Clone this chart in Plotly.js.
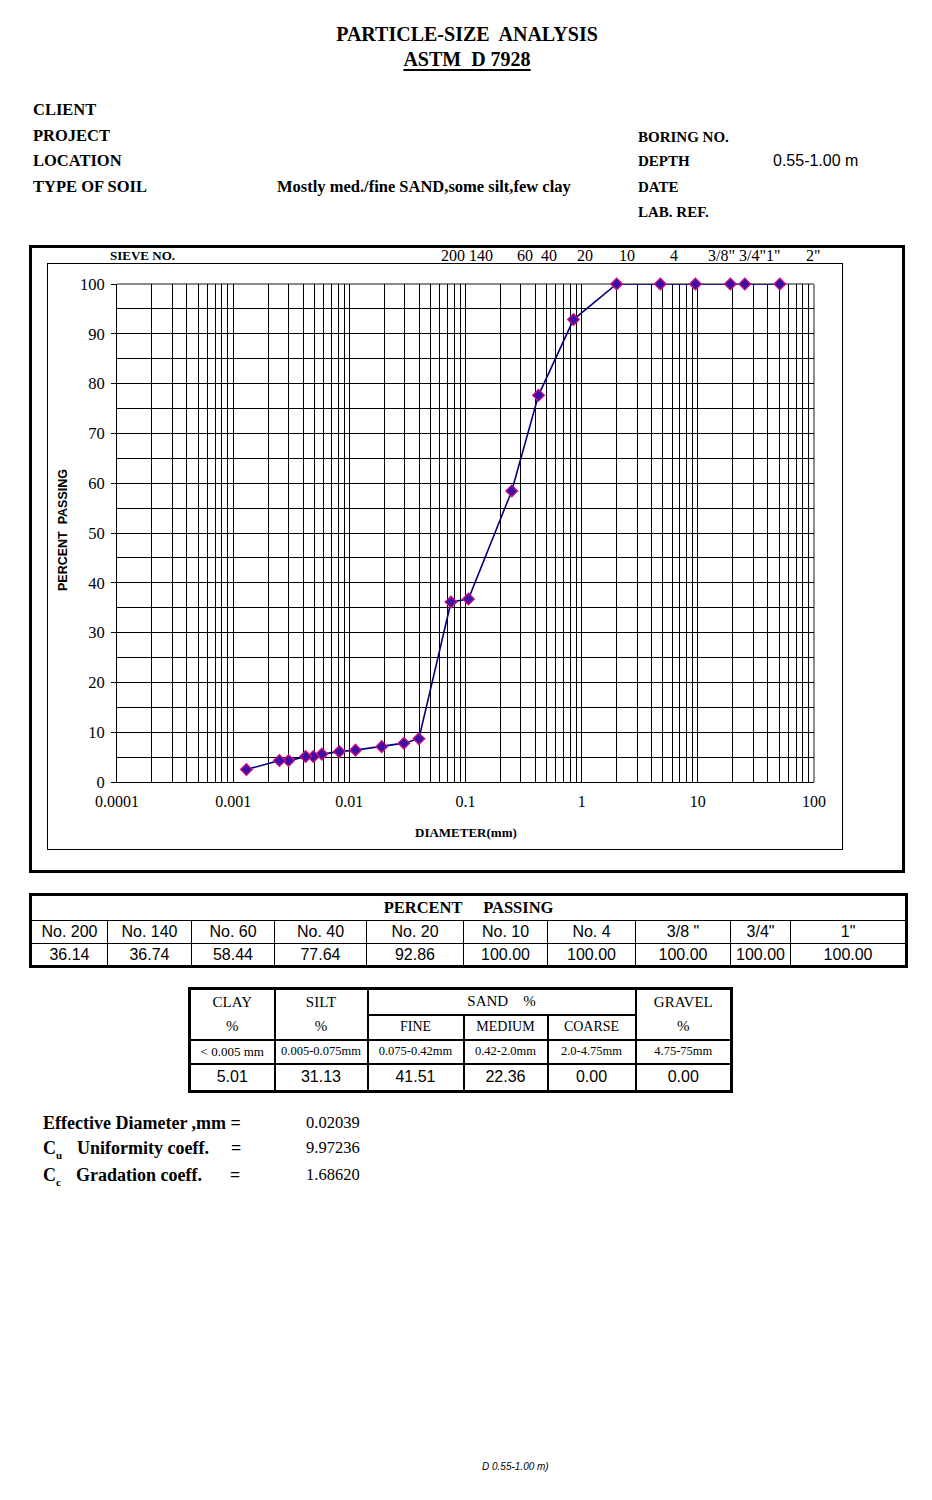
<!DOCTYPE html>
<html><head><meta charset="utf-8">
<script src="https://cdn.plot.ly/plotly-3.0.1.min.js"></script>
<style>
body{margin:0;background:#fff;}
#page{position:relative;width:932px;height:1500px;overflow:hidden;font-family:"Liberation Serif","Times New Roman",serif;color:#000;background:#fff;}
.tx{position:absolute;white-space:pre;line-height:20px;height:20px;}
table{position:absolute;border-collapse:collapse;table-layout:fixed;}
td{padding:0;text-align:center;white-space:nowrap;overflow:hidden;}
#t1{left:29px;top:893px;width:876px;border:3px solid #000;}
#t1 td{border:1px solid #000;font-family:"Liberation Sans",Arial,sans-serif;font-size:16px;}
#t1 td.h{font-family:"Liberation Serif",serif;font-weight:bold;font-size:16.5px;}
#t2{left:188px;top:987px;width:542px;border:3px solid #000;}
#t2 td{border:2px solid #000;font-size:15px;}
#t2 td.nb{border-bottom:none;}
#t2 td.nt{border-top:none;}
#t2 td.r{font-size:13px;border-top:1px solid #000;}
#t2 td.v{font-family:"Liberation Sans",Arial,sans-serif;font-size:16px;}
</style></head>
<body><div id="page">
<div style="position:absolute;left:29px;top:245px;width:870px;height:622px;border:3px solid #000;"></div>
<div style="position:absolute;left:47px;top:263px;width:796px;height:587px;border:1px solid #000;box-sizing:border-box;"></div>
<div id="chart" style="position:absolute;left:0;top:0;width:932px;height:900px;"></div>
</div>
<script>
// ---- data ----
const diameterMm = [50.8, 25.4, 19.05, 9.525, 4.75, 2.0, 0.85, 0.425, 0.25, 0.106, 0.075,
  0.0397, 0.0295, 0.0190, 0.0113, 0.0082, 0.0058, 0.0049, 0.0042, 0.0030, 0.0025, 0.0013];
const percentPassing = [100, 100, 100, 100, 100, 100, 92.86, 77.64, 58.44, 36.74, 36.14,
  8.7, 7.8, 7.1, 6.4, 6.1, 5.6, 5.1, 5.1, 4.3, 4.3, 2.5];
const xDecades = [0.0001, 0.001, 0.01, 0.1, 1, 10, 100];
const xDecadeLabels = ['0.0001', '0.001', '0.01', '0.1', '1', '10', '100'];
const yTicks = [0, 10, 20, 30, 40, 50, 60, 70, 80, 90, 100];
const sieveTopLabels = ['200 140', '60  40', '20', '10', '4', '3/8" 3/4"1"', '2"'];
const tableSieves = ['No. 200', 'No. 140', 'No. 60', 'No. 40', 'No. 20', 'No. 10', 'No. 4', '3/8 "', '3/4"', '1"'];
const tablePassing = [36.14, 36.74, 58.44, 77.64, 92.86, 100.00, 100.00, 100.00, 100.00, 100.00];
const fractionNames = ['CLAY', 'SILT', 'FINE', 'MEDIUM', 'COARSE', 'GRAVEL'];
const fractionRanges = ['< 0.005 mm', '0.005-0.075mm', '0.075-0.42mm', '0.42-2.0mm', '2.0-4.75mm', '4.75-75mm'];
const fractionPercent = [5.01, 31.13, 41.51, 22.36, 0.00, 0.00];
const effectiveDiameter = '0.02039';
const uniformityCoeff = '9.97236';
const gradationCoeff = '1.68620';
const depthText = '0.55-1.00 m';
const soilType = 'Mostly med./fine SAND,some silt,few clay';

// ---- text helper ----
const page = document.getElementById('page');
function put(html, x, yc, css, center) {
  const d = document.createElement('div');
  d.className = 'tx';
  d.style.left = x + 'px';
  d.style.top = (yc - 10) + 'px';
  d.innerHTML = html;
  if (center) d.style.transform = 'translateX(-50%)';
  Object.assign(d.style, css || {});
  page.appendChild(d);
  return d;
}
put('PARTICLE-SIZE  ANALYSIS', 467, 34, {fontWeight:'bold', fontSize:'20px'}, true);
put('ASTM  D 7928', 467, 59, {fontWeight:'bold', fontSize:'20px', textDecoration:'underline', textDecorationThickness:'2px', textUnderlineOffset:'3px'}, true);
const hdr = {fontWeight:'bold', fontSize:'16.5px'};
put('CLIENT', 33, 110, hdr);
put('PROJECT', 33, 136, hdr);
put('LOCATION', 33, 161, hdr);
put('TYPE OF SOIL', 33, 187, hdr);
put(soilType, 277, 187, hdr);
const hdr2 = {fontWeight:'bold', fontSize:'15px'};
put('BORING NO.', 638, 137, hdr2);
put('DEPTH', 638, 161, hdr2);
put('DATE', 638, 187, hdr2);
put('LAB. REF.', 638, 212, hdr2);
put(depthText, 773, 161, {fontFamily:'"Liberation Sans",Arial,sans-serif', fontSize:'16px'});

// sieve numbers above chart
put('SIEVE NO.', 110, 256, {fontWeight:'bold', fontSize:'13px'});
const sieveLeft = [441, 517, 577, 619, 670, 708, 806];
sieveTopLabels.forEach((s, i) => put(s.replace(/"/g, '&quot;'), sieveLeft[i], 256, {fontSize:'16px'}));

// ---- chart ----
const gridVals = [], gridText = [];
for (let e = -4; e <= 2; e++) {
  for (let m = 1; m <= 9; m++) {
    const v = m * Math.pow(10, e);
    if (e === 2 && m > 1) break;
    gridVals.push(v);
    gridText.push(m === 1 ? xDecadeLabels[e + 4] : '');
  }
}
const trace = {
  x: diameterMm, y: percentPassing, type: 'scatter', mode: 'lines+markers',
  line: {color: '#000080', width: 1.6},
  marker: {symbol: 'diamond', size: 9, color: '#3a10a8', line: {color: '#d0107a', width: 1.3}},
  cliponaxis: false, showlegend: false, hoverinfo: 'skip'
};
const fnt = {family: '"Liberation Serif", "Times New Roman", serif', size: 16, color: '#000'};
const layout = {
  width: 932, height: 900,
  margin: {l: 117, r: 118, t: 284, b: 118, pad: 0},
  paper_bgcolor: 'rgba(0,0,0,0)', plot_bgcolor: 'rgba(0,0,0,0)',
  font: fnt,
  xaxis: {
    type: 'log', range: [-4, 2], tickmode: 'array', tickvals: gridVals, ticktext: gridText,
    showgrid: true, gridcolor: '#000', gridwidth: 1, zeroline: false,
    showline: true, linecolor: '#000', linewidth: 1, ticks: '', ticklabelstandoff: 5,
    tickfont: fnt
  },
  yaxis: {
    range: [0, 100], tickmode: 'array', tickvals: yTicks,
    showgrid: true, gridcolor: '#000', gridwidth: 1, zeroline: false,
    minor: {dtick: 5, showgrid: true, gridcolor: '#000', gridwidth: 1, ticks: ''},
    showline: true, linecolor: '#000', linewidth: 1, ticks: 'outside', ticklen: 5, tickcolor: '#000',
    ticklabelstandoff: 3,
    tickfont: {family: fnt.family, size: 16.5, color: '#000'}
  },
  shapes: [
    {type: 'line', xref: 'paper', yref: 'paper', x0: 0, x1: 1, y0: 1, y1: 1, line: {color: '#8c8c8c', width: 2}, layer: 'between'},
    {type: 'line', xref: 'paper', yref: 'paper', x0: 1, x1: 1, y0: 0, y1: 1, line: {color: '#8c8c8c', width: 2}, layer: 'between'}
  ],
  annotations: [
    {text: 'PERCENT  PASSING', xref: 'paper', yref: 'paper', x: (63 - 117) / 697, y: (782 - 530) / 498,
     textangle: -90, showarrow: false, xanchor: 'center', yanchor: 'middle',
     font: {family: '"Liberation Sans", Arial, sans-serif', size: 12.5, color: '#000', weight: 'bold'}},
    {text: '<b>DIAMETER(mm)</b>', xref: 'paper', yref: 'paper', x: (466 - 117) / 697, y: (782 - 832) / 498,
     showarrow: false, xanchor: 'center', yanchor: 'middle',
     font: {family: '"Liberation Serif", serif', size: 13, color: '#000'}}
  ]
};
Plotly.newPlot('chart', [trace], layout, {staticPlot: true, displayModeBar: false});

// ---- table 1 ----
const t1w = [77, 84, 83, 92, 97, 84, 88, 95, 60, 116];
let h1 = '<table id="t1"><colgroup>' + t1w.map(w => '<col style="width:' + w + 'px">').join('') + '</colgroup>';
h1 += '<tr style="height:26px"><td class="h" colspan="10">PERCENT&nbsp;&nbsp;&nbsp;&nbsp;&nbsp;PASSING</td></tr>';
h1 += '<tr style="height:23px">' + tableSieves.map(s => '<td>' + s.replace(/"/g, '&quot;') + '</td>').join('') + '</tr>';
h1 += '<tr style="height:23px">' + tablePassing.map(v => '<td>' + v.toFixed(2) + '</td>').join('') + '</tr></table>';
page.insertAdjacentHTML('beforeend', h1);

// ---- table 2 ----
const t2w = [85, 93, 96, 84, 88, 96];
let h2 = '<table id="t2"><colgroup>' + t2w.map(w => '<col style="width:' + w + 'px">').join('') + '</colgroup>';
h2 += '<tr style="height:26px"><td class="nb">' + fractionNames[0] + '</td><td class="nb">' + fractionNames[1] +
      '</td><td colspan="3">SAND&nbsp;&nbsp;&nbsp;&nbsp;%</td><td class="nb">' + fractionNames[5] + '</td></tr>';
h2 += '<tr style="height:25px"><td class="nt">%</td><td class="nt">%</td><td style="font-size:14px">' + fractionNames[2] +
      '</td><td style="font-size:14px">' + fractionNames[3] + '</td><td style="font-size:14px">' + fractionNames[4] + '</td><td class="nt">%</td></tr>';
h2 += '<tr style="height:24px">' + fractionRanges.map((r, i) => '<td class="r" style="font-size:' + (i === 0 ? 13 : 12.5) + 'px">' + r.replace('<', '&lt;') + '</td>').join('') + '</tr>';
h2 += '<tr style="height:28px">' + fractionPercent.map(v => '<td class="v">' + v.toFixed(2) + '</td>').join('') + '</tr></table>';
page.insertAdjacentHTML('beforeend', h2);

// ---- coefficients ----
const cf = {fontWeight: 'bold', fontSize: '18px'};
put('Effective Diameter ,mm =', 43, 1123, cf);
put('C<sub style="font-size:11px">u</sub>', 43, 1148, cf);
put('Uniformity coeff.', 77, 1148, cf);
put('=', 231, 1148, cf);
put('C<sub style="font-size:11px">c</sub>', 43, 1175, cf);
put('Gradation coeff.', 76, 1175, cf);
put('=', 230, 1175, cf);
const vf = {fontSize: '16.5px'};
put(effectiveDiameter, 306, 1123, vf);
put(uniformityCoeff, 306, 1148, vf);
put(gradationCoeff, 306, 1175, vf);

put('D ' + depthText + ')', 482, 1467, {fontFamily: '"Liberation Sans",Arial,sans-serif', fontStyle: 'italic', fontSize: '10px'});
</script>
</body></html>
